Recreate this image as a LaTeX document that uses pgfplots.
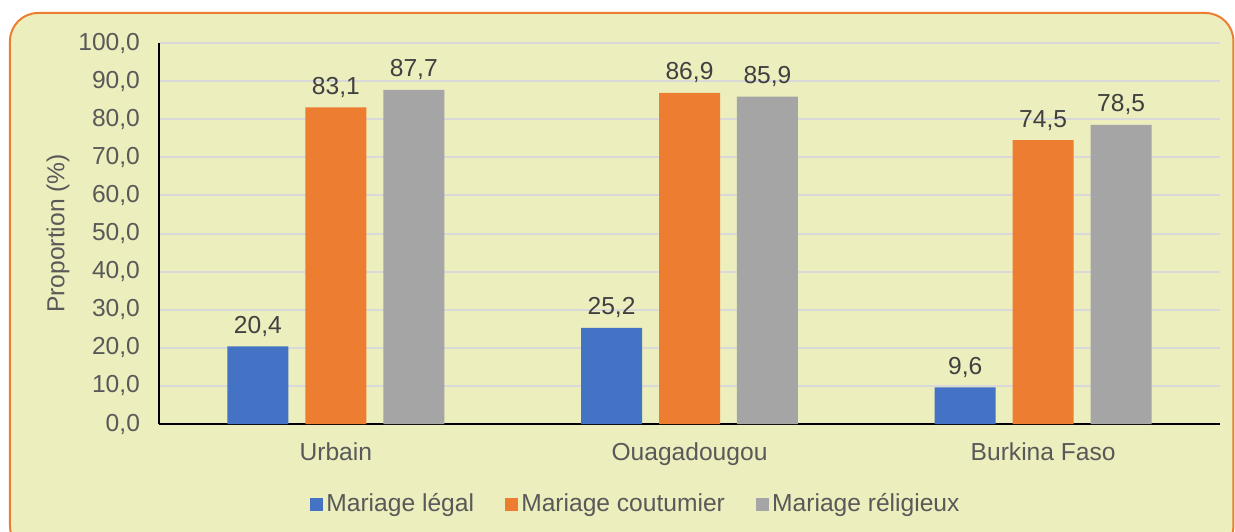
\documentclass[border=0pt]{standalone}
\usepackage{pgfplots}
\pgfplotsset{compat=1.18}
\usepackage{fontspec}
\setmainfont{Liberation Sans}
\definecolor{bgc}{RGB}{236,238,189}
\definecolor{frameor}{RGB}{237,125,49}
\definecolor{cblue}{RGB}{68,114,196}
\definecolor{corange}{RGB}{237,125,49}
\definecolor{cgray}{RGB}{165,165,165}
\definecolor{gridc}{RGB}{217,217,217}
\definecolor{tickc}{RGB}{89,89,89}
\definecolor{labc}{RGB}{64,64,64}
\begin{document}
\begin{tikzpicture}
\useasboundingbox (-79.5pt,-53.5pt) rectangle (538pt,212pt);
\clip (-79.5pt,-53.5pt) rectangle (538pt,212pt);
\filldraw[fill=bgc, draw=frameor, line width=1pt, rounded corners=14pt] (-74.5pt,-65pt) rectangle (537.2pt,205.5pt);
\begin{axis}[
  at={(0pt,0pt)}, anchor=south west,
  scale only axis,
  width=530.5pt, height=190.5pt,
  ybar, bar width=0.1725,
  xmin=-0.5, xmax=2.5,
  ymin=0, ymax=100,
  ytick={0,10,...,100},
  xtick={0,1,2},
  xticklabels={Urbain,Ouagadougou,Burkina Faso},
  major tick length=0pt,
  axis lines=left,
  axis line style={-, line width=0.9pt, black},
  ymajorgrids,
  grid style={gridc, line width=1pt},
  font=\fontsize{12.3}{14.5}\selectfont,
  /pgf/number format/use comma,
  /pgf/number format/fixed,
  /pgf/number format/fixed zerofill,
  /pgf/number format/precision=1,
  /pgf/number format/assume math mode=true,
  yticklabel style={text=tickc, xshift=-6pt},
  xticklabel style={text=tickc, yshift=-6pt},
  ylabel={Proportion (\%)},
  ylabel style={at={(axis description cs:-0.0952,0.5)}, anchor=center, text=tickc},
  nodes near coords,
  nodes near coords style={text=labc, anchor=base, yshift=6.5pt},
  legend columns=3,
  legend style={at={(axis description cs:0.4500,-0.2100)}, anchor=center, draw=none, fill=none, text=tickc,
    /tikz/every even column/.append style={column sep=13.5pt},
    nodes={inner sep=1.8pt}},
  legend image code/.code={\fill[#1] (0pt,-3.25pt) rectangle (6.5pt,3.25pt);},
]
\addplot[fill=cblue, draw=none, bar shift=-0.2205] coordinates {(0,20.4) (1,25.2) (2,9.6)};
\addplot[fill=corange, draw=none, bar shift=0] coordinates {(0,83.1) (1,86.9) (2,74.5)};
\addplot[fill=cgray, draw=none, bar shift=0.2205] coordinates {(0,87.7) (1,85.9) (2,78.5)};
\legend{Mariage légal, Mariage coutumier, Mariage réligieux}
\end{axis}
\end{tikzpicture}
\end{document}
